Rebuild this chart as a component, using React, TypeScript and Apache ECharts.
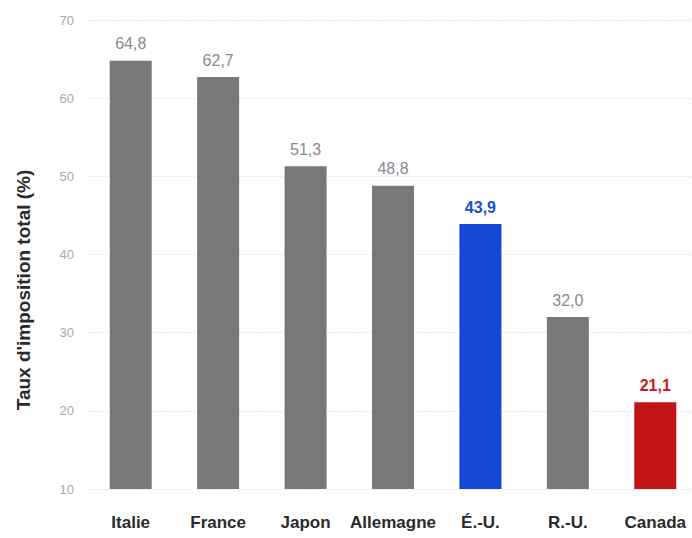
import React, { useEffect, useRef } from "react";
import * as echarts from "echarts";

const categories = ["Italie", "France", "Japon", "Allemagne", "É.-U.", "R.-U.", "Canada"];
const values = [64.8, 62.7, 51.3, 48.8, 43.9, 32.0, 21.1];
const barColors = ["#78787a", "#78787a", "#78787a", "#78787a", "#1547d6", "#78787a", "#c01417"];
const labelColors = ["#8a8a8c", "#8a8a8c", "#8a8a8c", "#8a8a8c", "#1a4fd0", "#8a8a8c", "#c8181b"];
const labelBold = [false, false, false, false, true, false, true];
const yAxisTitle = "Taux d'imposition total (%)";

export default function App() {
  const ref = useRef<HTMLDivElement>(null);
  useEffect(() => {
    if (!ref.current) return;
    const chart = echarts.init(ref.current, null, { renderer: "svg" });
    const font = "Liberation Sans, Arial, sans-serif";
    chart.setOption({
      animation: false,
      backgroundColor: "#ffffff",
      grid: { left: 87, top: 20, width: 612, bottom: 49 },
      graphic: [
        {
          type: "text",
          x: 23,
          y: 290,
          rotation: Math.PI / 2,
          style: {
            text: yAxisTitle,
            fill: "#2a2a2a",
            font: `bold 19px ${font}`,
            align: "center",
            verticalAlign: "middle",
          },
        },
      ],
      xAxis: {
        type: "category",
        data: categories,
        axisLine: { show: false },
        axisTick: { show: false },
        axisLabel: {
          interval: 0,
          color: "#2a2a2a",
          fontWeight: "bold",
          fontSize: 17,
          fontFamily: font,
          margin: 25,
        },
      },
      yAxis: {
        type: "value",
        min: 10,
        max: 70,
        interval: 10,
        axisLine: { show: false },
        axisTick: { show: false },
        axisLabel: {
          color: "#a8a8a8",
          fontSize: 13,
          fontFamily: font,
          margin: 13,
        },
        splitLine: { lineStyle: { color: "#ececec", type: "dashed" } },
      },
      series: [
        {
          type: "bar",
          barWidth: 42,
          data: values.map((v, i) => ({
            value: v,
            itemStyle: { color: barColors[i] },
            label: {
              show: true,
              position: "top",
              distance: 9,
              color: labelColors[i],
              fontWeight: labelBold[i] ? "bold" : "normal",
              fontSize: 16,
              fontFamily: font,
              formatter: () => v.toFixed(1).replace(".", ","),
            },
          })),
        },
      ],
    });
    return () => chart.dispose();
  }, []);
  return (
    <div style={{ width: 692, height: 538, position: "absolute", left: 0, top: 0, overflow: "hidden" }}>
      <div ref={ref} style={{ width: 700, height: 538 }} />
    </div>
  );
}
